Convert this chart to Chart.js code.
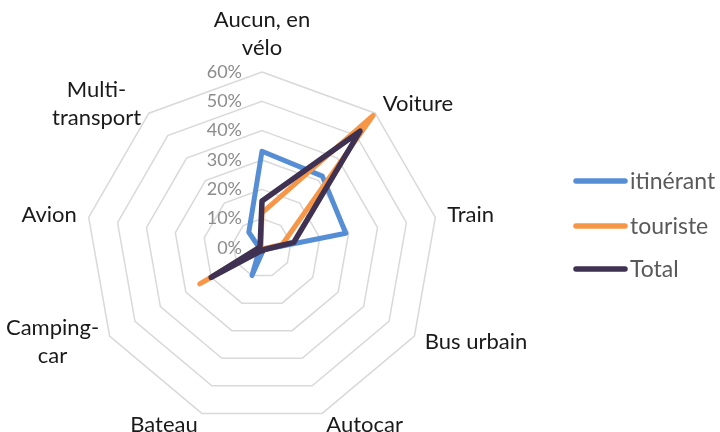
<!DOCTYPE html>
<html>
<head>
<meta charset="utf-8">
<script src="https://cdn.jsdelivr.net/npm/chart.js@4.4.1/dist/chart.umd.min.js"></script>
<style>
  html, body { margin: 0; padding: 0; background: #ffffff; }
  #wrap { width: 720px; height: 432px; }
</style>
</head>
<body>
<div id="wrap"><canvas id="c" width="720" height="432"></canvas></div>
<script>
// ---- Data ----
const categories = [
  ['Aucun, en', 'vélo'], 'Voiture', 'Train', 'Bus urbain', 'Autocar',
  'Bateau', ['Camping-', 'car'], 'Avion', ['Multi-', 'transport']
];
const seriesNames = ['itinérant', 'touriste', 'Total'];
const itinerant = [33, 32, 29, 1, 1, 10, 1, 1, 7];
const touriste  = [12, 59, 7, 0.5, 0.5, 0.5, 24.5, 0.5, 0.5];
const total     = [16, 52, 11, 1, 1, 1, 20, 1, 1];
const tickValues = [0, 10, 20, 30, 40, 50, 60];
const tickLabels = ['0%', '10%', '20%', '30%', '40%', '50%', '60%'];

const colors = ['#558ED5', '#F79646', '#3F3151'];
const widths = [5, 5, 5.5];
const FONT = 'Lato, "Open Sans", sans-serif';

// Draws tick labels, category labels and legend using the radial scale's geometry
const labelsPlugin = {
  id: 'excelLabels',
  afterDraw(chart) {
    const ctx = chart.ctx;
    const scale = chart.scales.r;
    ctx.save();

    // tick labels (left of the vertical axis, right aligned)
    ctx.font = '18px ' + FONT;
    ctx.fillStyle = '#8c8c8c';
    ctx.textAlign = 'right';
    ctx.textBaseline = 'middle';
    tickValues.forEach((v, k) => {
      const d = scale.getDistanceFromCenterForValue(v);
      ctx.fillText(tickLabels[k], scale.xCenter - 20, scale.yCenter - d);
    });

    // category labels
    ctx.font = '22px ' + FONT;
    ctx.fillStyle = '#1a1a1a';
    const lineH = 28;
    categories.forEach((lab, i) => {
      const lines = Array.isArray(lab) ? lab : [lab];
      const ang = scale.getIndexAngle(i);
      const s = Math.sin(ang), c = Math.cos(ang);
      const top = Math.abs(s) < 0.05;
      const p = scale.getPointPosition(i, scale.drawingArea + (top ? 10 : 12));
      const w = lines.map(t => ctx.measureText(t).width);
      const bw = Math.max(...w);
      const n = lines.length;
      ctx.textAlign = 'center';
      ctx.textBaseline = 'middle';
      let cx, cy;
      if (top) {
        cx = p.x;
        cy = c > 0 ? p.y - n * lineH / 2 : p.y + n * lineH / 2;
      } else {
        cx = s > 0 ? p.x + bw / 2 : p.x - bw / 2;
        cy = p.y;
      }
      lines.forEach((t, k) => {
        ctx.fillText(t, cx, cy + (k - (n - 1) / 2) * lineH);
      });
    });

    // legend
    const legY = [181, 226, 269];
    ctx.font = '23px ' + FONT;
    ctx.textAlign = 'left';
    ctx.textBaseline = 'middle';
    seriesNames.forEach((name, k) => {
      ctx.strokeStyle = colors[k];
      ctx.lineWidth = 5.5;
      ctx.lineCap = 'round';
      ctx.beginPath();
      ctx.moveTo(576, legY[k]);
      ctx.lineTo(625, legY[k]);
      ctx.stroke();
      ctx.fillStyle = '#595959';
      ctx.fillText(name, 630, legY[k] + 1);
    });
    ctx.restore();
  }
};

const series = [itinerant, touriste, total];
new Chart(document.getElementById('c'), {
  type: 'radar',
  data: {
    labels: categories,
    datasets: series.map((vals, k) => ({
      label: seriesNames[k],
      data: vals,
      borderColor: colors[k],
      backgroundColor: 'transparent',
      borderWidth: widths[k],
      borderJoinStyle: 'round',
      fill: false,
      pointRadius: 0,
      pointHoverRadius: 0,
      tension: 0,
      order: 3 - k
    }))
  },
  options: {
    responsive: false,
    devicePixelRatio: 1,
    animation: false,
    layout: { padding: { top: 72, bottom: 8, left: 86, right: 282 } },
    plugins: { legend: { display: false }, tooltip: { enabled: false }, title: { display: false } },
    scales: {
      r: {
        min: 0, max: 60,
        ticks: { stepSize: 10, display: false },
        grid: { color: '#d9d9d9', lineWidth: 1.5, circular: false },
        angleLines: { display: false },
        pointLabels: { display: false }
      }
    }
  },
  plugins: [labelsPlugin]
});
</script>
</body>
</html>
